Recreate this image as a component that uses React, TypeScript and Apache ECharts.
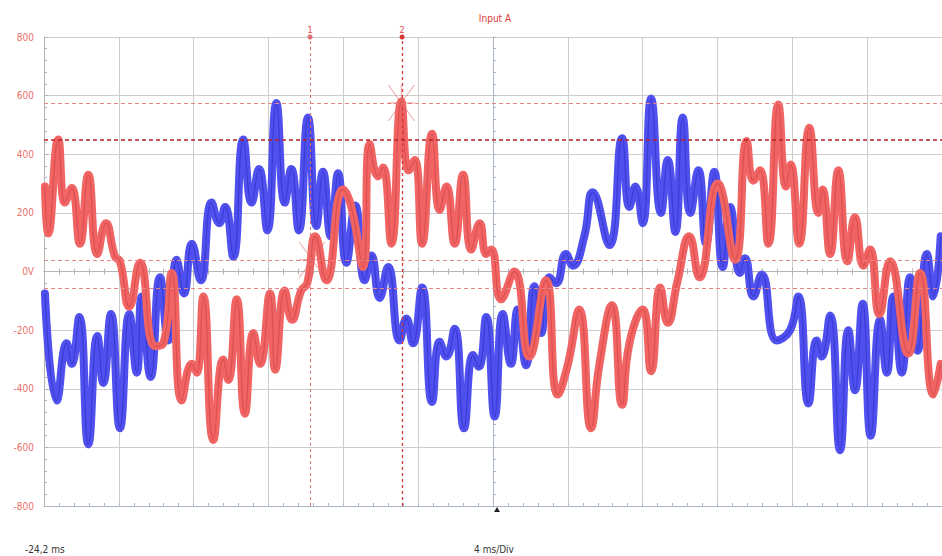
import React, { useEffect, useRef } from "react";
import * as echarts from "echarts";

// Time in ms measured from the left edge of the screen (-24,2 ms), 4 ms/div, 12 divisions
const redTime = [0.05, 0.23, 0.76, 1.12, 1.48, 1.92, 2.37, 2.85, 3.31, 3.8, 4.06, 4.56, 5.13, 5.93, 6.38, 6.83, 7.36, 7.9, 8.16, 8.52, 9.05, 9.58, 9.85, 10.3, 10.74, 11.19, 11.55, 12.08, 12.36, 12.87, 13.26, 13.75, 14.07, 14.5, 15.09, 15.98, 16.43, 17.05, 17.41, 17.85, 18.12, 18.57, 19.1, 19.49, 19.82, 20.21, 20.74, 21.15, 21.51, 21.95, 22.4, 22.84, 23.29, 23.64, 23.91, 24.43, 25.14, 25.94, 26.83, 27.46, 27.99, 28.61, 29.24, 29.68, 30.36, 30.9, 31.29, 32.0, 32.45, 32.94, 33.34, 33.87, 34.49, 35.03, 36.01, 36.94, 37.56, 37.92, 38.27, 38.72, 39.25, 39.66, 39.91, 40.37, 40.91, 41.39, 41.62, 42.02, 42.46, 42.94, 43.35, 43.8, 44.15, 44.65, 45.22, 46.2, 46.83, 47.54, 47.93];
const redVolts = [290, 130, 450, 235, 285, 95, 330, 60, 165, 50, 35, -120, 30, -255, -245, -5, -440, -315, -345, -85, -575, -300, -370, -95, -485, -210, -315, -75, -335, -65, -165, -65, -40, 120, -30, 280, 220, 15, 435, 325, 355, 95, 580, 345, 380, 95, 470, 210, 290, 95, 330, 75, 165, 60, 75, -95, 0, -290, -30, -420, -320, -130, -535, -320, -115, -455, -245, -130, -340, -55, -175, -30, 120, -20, 300, 40, 445, 310, 345, 95, 570, 290, 365, 95, 490, 200, 280, 60, 345, 35, 185, 20, 75, -145, 35, -280, -5, -420, -315];

const blueTime = [0.05, 0.68, 1.21, 1.48, 1.89, 2.37, 2.85, 3.17, 3.58, 4.06, 4.56, 4.96, 5.22, 5.7, 6.2, 6.64, 7.09, 7.48, 7.9, 8.38, 8.96, 9.37, 9.68, 10.12, 10.65, 11.1, 11.49, 11.94, 12.42, 12.87, 13.22, 13.62, 14.11, 14.56, 14.91, 15.33, 15.72, 16.16, 16.64, 17.14, 17.5, 17.94, 18.39, 19.01, 19.37, 19.72, 20.21, 20.74, 21.15, 21.51, 21.95, 22.45, 22.93, 23.24, 23.64, 24.09, 24.52, 24.96, 25.32, 25.77, 26.21, 26.57, 27.01, 27.37, 27.9, 28.26, 28.88, 29.33, 30.22, 30.9, 31.29, 31.61, 32.0, 32.45, 32.98, 33.34, 33.75, 34.14, 34.55, 34.98, 35.39, 35.83, 36.28, 36.67, 37.2, 37.47, 37.92, 38.36, 39.17, 39.88, 40.32, 40.86, 41.3, 41.57, 42.02, 42.55, 42.99, 43.35, 43.76, 44.19, 44.69, 45.05, 45.4, 45.85, 46.29, 46.7, 47.19, 47.54, 47.93];
const blueVolts = [-75, -440, -245, -315, -155, -590, -220, -380, -145, -535, -145, -345, -85, -360, -20, -235, 40, -75, 95, -30, 235, 165, 220, 50, 450, 235, 350, 140, 575, 235, 350, 140, 525, 155, 340, 120, 335, 30, 225, -30, 55, -90, 15, -235, -160, -245, -55, -445, -240, -290, -195, -535, -285, -325, -155, -495, -145, -315, -130, -320, -50, -210, -20, -40, 60, 20, 120, 270, 90, 455, 220, 290, 165, 590, 200, 380, 135, 525, 200, 345, 95, 340, 15, 220, -5, 45, -85, -10, -235, -200, -85, -450, -235, -290, -150, -610, -200, -405, -110, -560, -165, -345, -85, -345, -20, -270, 60, -85, 120];

// Cursors
const cursorTimes = [14.22, 19.14];
const cursorNames = ["1", "2"];
const cursorLevels = [575, 449, 39, -56];
const cursorPointTimes = [19.1, 14.33];
const cursorPointVolts = [575, 40];

const yTicks = [-800, -600, -400, -200, 0, 200, 400, 600, 800];

const FONT = "'Liberation Sans Narrow', 'DejaVu Sans Condensed', 'Liberation Sans', sans-serif";

const zip = (a: number[], b: number[]) => a.map((v, i) => [v, b[i]]);

export default function App() {
  const ref = useRef<HTMLDivElement>(null);
  useEffect(() => {
    const chart = echarts.init(ref.current!, null, { renderer: "svg" });
    const gridColor = "#cdcdcd";
    const tickColor = "#b5b5b5";
    const centerColor = "#a9b6c4";
    const SMOOTH = 0.5;
    const option: any = {
      animation: false,
      backgroundColor: "#ffffff",
      textStyle: { fontFamily: FONT },
      grid: { left: 44, right: 0, top: 37, bottom: 50, show: false },
      xAxis: [
        {
          type: "value", min: 0, max: 48, interval: 4, position: "bottom",
          axisLabel: { show: false },
          axisLine: { show: true, lineStyle: { color: tickColor } },
          axisTick: { show: true, inside: true, length: 4, lineStyle: { color: tickColor } },
          minorTick: { show: true, splitNumber: 5, length: 3, lineStyle: { color: tickColor } },
          splitLine: { show: true, lineStyle: { color: gridColor, width: 1 } },
        },
        {
          type: "value", min: 0, max: 48, interval: 4, position: "top",
          axisLabel: { show: false },
          axisLine: { show: true, lineStyle: { color: tickColor } },
          axisTick: { show: true, inside: true, length: 4, lineStyle: { color: tickColor } },
          minorTick: { show: true, splitNumber: 5, length: 3, lineStyle: { color: tickColor } },
          splitLine: { show: false },
        },
        {
          type: "value", min: 0, max: 48, interval: 4, position: "bottom",
          axisLabel: { show: false },
          axisLine: { show: true, onZero: true, lineStyle: { color: centerColor } },
          axisTick: { show: true, inside: true, length: 3, lineStyle: { color: centerColor } },
          minorTick: { show: true, splitNumber: 5, length: 3, lineStyle: { color: centerColor } },
          splitLine: { show: false },
        },
      ],
      yAxis: [
        {
          type: "value", min: -800, max: 800, interval: 200, position: "left",
          axisLabel: {
            color: "#e8706a", fontSize: 10, margin: 10, fontFamily: FONT,
            formatter: (v: number) => (yTicks.includes(v) ? (v === 0 ? "0V" : String(v)) : ""),
          },
          axisLine: { show: true, lineStyle: { color: tickColor } },
          axisTick: { show: true, inside: true, length: 4, lineStyle: { color: tickColor } },
          minorTick: { show: true, splitNumber: 5, length: 3, lineStyle: { color: tickColor } },
          splitLine: { show: true, lineStyle: { color: gridColor, width: 1 } },
        },
        {
          type: "value", min: -800, max: 800, interval: 200, position: "left", offset: -449,
          axisLabel: { show: false },
          axisLine: { show: true, onZero: false, lineStyle: { color: centerColor } },
          axisTick: { show: true, inside: true, length: 3, lineStyle: { color: centerColor } },
          minorTick: { show: true, splitNumber: 5, length: 3, lineStyle: { color: centerColor } },
          splitLine: { show: false },
        },
      ],
      series: [
        {
          name: "Input B band", type: "line", xAxisIndex: 0, yAxisIndex: 0,
          data: zip(blueTime, blueVolts), smooth: SMOOTH, showSymbol: false, z: 2,
          lineStyle: { color: "#5050ef", width: 8, cap: "round", join: "round" },
        },
        {
          name: "Input B core", type: "line", xAxisIndex: 0, yAxisIndex: 0,
          data: zip(blueTime, blueVolts), smooth: SMOOTH, showSymbol: false, z: 2,
          lineStyle: { color: "#1c1cb0", width: 1.2, opacity: 0.4 },
        },
        {
          name: "Input A band", type: "line", xAxisIndex: 0, yAxisIndex: 0,
          data: zip(redTime, redVolts), smooth: SMOOTH, showSymbol: false, z: 3,
          lineStyle: { color: "#f06464", width: 8, cap: "round", join: "round" },
        },
        {
          name: "Input A core", type: "line", xAxisIndex: 0, yAxisIndex: 0,
          data: zip(redTime, redVolts), smooth: SMOOTH, showSymbol: false, z: 3,
          lineStyle: { color: "#c02828", width: 1.2, opacity: 0.35 },
        },
        {
          name: "cursor lines", type: "line", xAxisIndex: 0, yAxisIndex: 0, data: [], z: 4,
          markLine: {
            silent: true, symbol: ["none", "circle"], symbolSize: 5, animation: false,
            data: cursorTimes.map((t, i) => ({
              xAxis: t,
              lineStyle: { color: i === 0 ? "#e07070" : "#d83838", width: i === 0 ? 1 : 1.3, type: [3, 3] },
              itemStyle: { color: i === 0 ? "#e05050" : "#c83030" },
              label: {
                show: true, position: "end", distance: 3, formatter: cursorNames[i],
                color: "#e04848", fontSize: 9, fontFamily: FONT,
              },
            })),
          },
        },
        {
          name: "level lines", type: "line", xAxisIndex: 0, yAxisIndex: 0, data: [], z: 4,
          markLine: {
            silent: true, symbol: ["none", "none"], animation: false,
            label: { show: false },
            data: cursorLevels.map((v, i) => ({
              yAxis: v,
              lineStyle: {
                color: i === 1 ? "#b82020" : "#e88484",
                width: i === 1 ? 1.5 : 1,
                type: [4, 3],
              },
            })),
          },
        },
        {
          name: "cursor points", type: "scatter", xAxisIndex: 0, yAxisIndex: 0, z: 5,
          data: zip(cursorPointTimes, cursorPointVolts),
          symbol: "path://M0,0L20,30M20,0L0,30M10,0L10,30M0,15L20,15",
          symbolSize: [26, 36],
          itemStyle: { color: "none", borderColor: "#e06060", borderWidth: 0.8 },
        },
      ],
      graphic: [
        { type: "text", x: 495, y: 18, style: { text: "Input A", fill: "#e03a3a", fontSize: 10, fontFamily: FONT, align: "center", verticalAlign: "middle" } },
        { type: "text", x: 25, y: 549, style: { text: "-24,2 ms", fill: "#333333", fontSize: 10, fontFamily: FONT, align: "left", verticalAlign: "middle" } },
        { type: "text", x: 494, y: 549, style: { text: "4 ms/Div", fill: "#333333", fontSize: 10, fontFamily: FONT, align: "center", verticalAlign: "middle" } },
        { type: "polygon", shape: { points: [[494, 512], [500, 512], [497, 507]] }, style: { fill: "#222222" } },
      ],
    };
    chart.setOption(option);
    return () => chart.dispose();
  }, []);
  return (
    <div
      ref={ref}
      style={{ position: "absolute", left: 0, top: 0, width: 942, height: 556, background: "#fff" }}
    />
  );
}
